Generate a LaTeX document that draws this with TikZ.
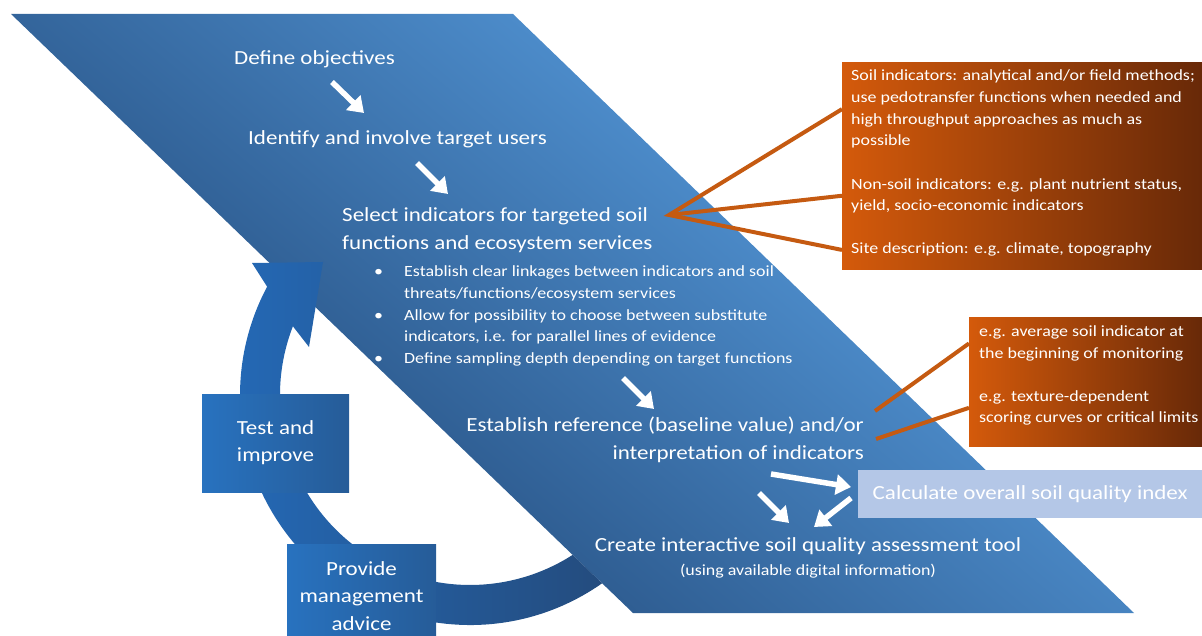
\documentclass[tikz,border=0pt]{standalone}
\usepackage{fontspec}
\setmainfont{Carlito}[FakeStretch=1.15]
\usetikzlibrary{arrows.meta}

\definecolor{bgdark}{HTML}{1E4372}
\definecolor{bglight}{HTML}{5DA6EA}
\definecolor{ringlight}{HTML}{2469B6}
\definecolor{ringmid}{HTML}{2462A8}
\definecolor{ringdark}{HTML}{244C7E}
\definecolor{boxlight}{HTML}{2872BF}
\definecolor{boxdark}{HTML}{265C98}
\definecolor{orlight}{HTML}{D45A0B}
\definecolor{ordark}{HTML}{682908}
\definecolor{orline}{HTML}{C55A11}
\definecolor{idxfill}{HTML}{B4C7E7}

\newcommand{\bigtxt}{\fontsize{20}{27.3}\selectfont}
\newcommand{\smalltxt}{\fontsize{15.6}{21.6}\selectfont}

\tikzset{
  steptxt/.style={text=white,font=\bigtxt,inner sep=0pt,align=left},
  notetxt/.style={text=white,font=\smalltxt,inner sep=0pt,align=left},
  lbox/.style={left color=boxlight,right color=boxdark,text=white,font=\bigtxt,align=center,inner sep=0pt},
  obox/.style={left color=orlight,right color=ordark,inner sep=0pt,anchor=north west},
  idxbox/.style={fill=idxfill,text=white,font=\bigtxt,inner sep=0pt,anchor=north west},
  oline/.style={orline,line width=4pt},
  warr/.style={white,line width=5.5pt,-{Triangle[length=15pt,width=20pt]}}
}

\begin{document}
\begin{tikzpicture}[x=1pt,y=-1pt]
\useasboundingbox (0,0) rectangle (1202,636);
% slanted band
\shade[top color=bglight,bottom color=bgdark,shading angle=-40]
  (11,14)--(513,14)--(1134,613)--(633,613)--cycle;
% cycle arrow
\shade[left color=ringlight,middle color=ringmid,right color=ringdark]
  (602.1,583.3) arc[start angle=54.95,end angle=208.1,radius=230]
  --(252,263)--(323,262)--(309,347)--(292.9,326.3)
  arc[start angle=201.2,end angle=57.29,radius=190]--cycle;
\node[lbox,minimum width=147pt,minimum height=98pt] (test) at (275.5,443) {Test and\\improve};
\node[lbox,minimum width=149pt,minimum height=104pt] (advice) at (361.5,596) {Provide\\management\\advice};

% steps (base = last line)
\node[steptxt,anchor=base west] (obj) at (234,65) {Define objectives};
\node[steptxt,anchor=base west] (users) at (248,145) {Identify and involve target users};
\node[steptxt,anchor=base west] (sel) at (342,249.3) {Select indicators for targeted soil\\functions and ecosystem services};
\node[notetxt,anchor=base west] (bul) at (374,363.3) {%
  \makebox[30pt][l]{\textbullet}Establish clear linkages between indicators and soil\\
  \hspace*{30pt}threats/functions/ecosystem services\\
  \makebox[30pt][l]{\textbullet}Allow for possibility to choose between substitute\\
  \hspace*{30pt}indicators, i.e. for parallel lines of evidence\\
  \makebox[30pt][l]{\textbullet}Define sampling depth depending on target functions};
\node[steptxt,align=right,anchor=base east] (ref) at (864,459) {Establish reference (baseline value) and/or\\interpretation of indicators};
\node[idxbox,minimum width=344pt,minimum height=48pt] (idx) at (858,470) {Calculate overall soil quality index};
\node[steptxt,anchor=base] (tool) at (808,551.7) {Create interactive soil quality assessment tool};
\node[notetxt,anchor=base] (toolnote) at (808,575) {(using available digital information)};

% white arrows
\coordinate (a1) at (332,82);  \coordinate (b1) at (364,113);
\coordinate (a2) at (417,163); \coordinate (b2) at (448,194);
\coordinate (a3) at (623,378); \coordinate (b3) at (654,409);
\coordinate (a4) at (771,474); \coordinate (b4) at (851,487);
\coordinate (a5) at (759,493); \coordinate (b5) at (789,523);
\coordinate (a6) at (851,498); \coordinate (b6) at (814,527);
\draw[warr] (a1)--(b1);
\draw[warr] (a2)--(b2);
\draw[warr] (a3)--(b3);
\draw[warr] (a4)--(b4);
\draw[warr] (a5)--(b5);
\draw[warr] (a6)--(b6);

% indicator boxes
\node[obox,minimum width=360pt,minimum height=207pt] (soilbox) at (842,62) {};
\node[notetxt,anchor=base west] (p1) at (851,145.7) {Soil indicators: analytical and/or field methods;\\use pedotransfer functions when needed and\\high throughput approaches as much as\\possible};
\node[notetxt,anchor=base west] (p2) at (851,210.7) {Non-soil indicators: e.g. plant nutrient status,\\yield, socio-economic indicators};
\node[notetxt,anchor=base west] (p3) at (851,254) {Site description: e.g. climate, topography};
\coordinate (selpt) at (669,215);
\draw[oline] (soilbox.west |- p1)--(selpt)--(soilbox.west |- p3);
\draw[oline] (selpt)--(soilbox.west |- p2);

\node[obox,minimum width=233pt,minimum height=129pt] (refbox) at (969,317) {};
\node[notetxt,anchor=base west] (q1) at (979,358.3) {e.g. average soil indicator at\\the beginning of monitoring};
\node[notetxt,anchor=base west] (q2) at (979,422.7) {e.g. texture-dependent\\scoring curves or critical limits};
\coordinate (r1) at (875,411);
\coordinate (r2) at (876,439);
\draw[oline] (r1)--(refbox.west |- q1);
\draw[oline] (r2)--(refbox.west |- q2);

\end{tikzpicture}
\end{document}
